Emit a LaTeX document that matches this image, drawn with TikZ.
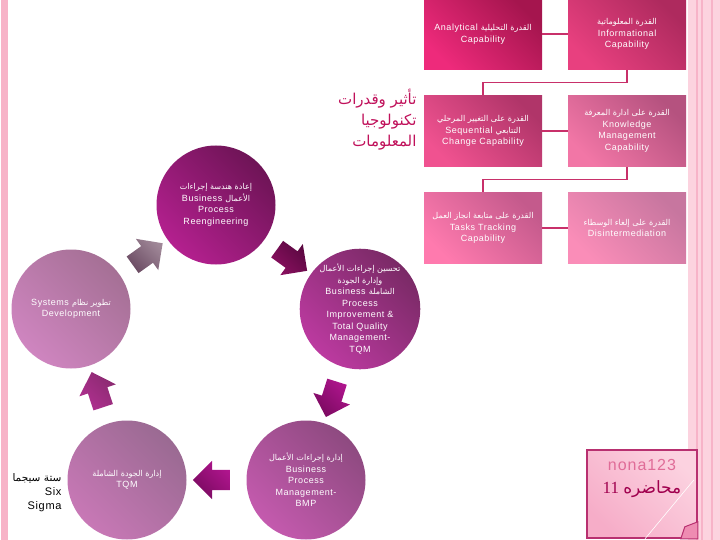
\documentclass[tikz,border=0pt]{standalone}
\usepackage{fontspec}
\setmainfont{Liberation Sans}[LetterSpace=6]
\newfontfamily\arabicfont[Script=Arabic]{DejaVu Sans}
\newfontfamily\arabicsmall[Script=Arabic, Scale=0.9]{DejaVu Sans}
\newfontfamily\serifnum{Liberation Serif}
\TeXXeTstate=1
\usetikzlibrary{shapes.arrows,calc}

\newcommand\artext[1]{{\arabicsmall\beginR #1\endR}}
\newcommand\artitle[1]{{\arabicfont\beginR #1\endR}}

\definecolor{linkcol}{HTML}{C8306A}
\definecolor{titlecol}{HTML}{C0105A}
\definecolor{stripecol}{HTML}{F7B3C8}
\definecolor{stripelight}{HTML}{FCD3DF}
% boxes: dark (top right), light (bottom left)
\definecolor{aAd}{HTML}{A5154E}\definecolor{aAl}{HTML}{EE2A7B}
\definecolor{bAd}{HTML}{AE2A5E}\definecolor{bAl}{HTML}{E8407F}
\definecolor{aBd}{HTML}{B03569}\definecolor{aBl}{HTML}{F05290}
\definecolor{bBd}{HTML}{B5527F}\definecolor{bBl}{HTML}{F276A6}
\definecolor{aCd}{HTML}{C45A8C}\definecolor{aCl}{HTML}{FF7AAE}
\definecolor{bCd}{HTML}{C7769F}\definecolor{bCl}{HTML}{FA8DB8}
% circles
\definecolor{bprd}{HTML}{6E1456}\definecolor{bprl}{HTML}{B4208F}
\definecolor{bpid}{HTML}{7A2A66}\definecolor{bpil}{HTML}{BC3AA0}
\definecolor{bpmd}{HTML}{8E4A80}\definecolor{bpml}{HTML}{C45AAE}
\definecolor{tqmd}{HTML}{9A6A92}\definecolor{tqml}{HTML}{C878B6}
\definecolor{sysd}{HTML}{A57095}\definecolor{sysl}{HTML}{CF85C0}
% arrows
\definecolor{arAd}{HTML}{6A4A62}\definecolor{arAl}{HTML}{A08898}
\definecolor{arBd}{HTML}{5A0840}\definecolor{arBl}{HTML}{8A1060}
\definecolor{arCd}{HTML}{7A0A60}\definecolor{arCl}{HTML}{B0158E}
\definecolor{arDd}{HTML}{8A2A70}\definecolor{arDl}{HTML}{B03090}
% note
\definecolor{noteborder}{HTML}{B83070}
\definecolor{noted}{HTML}{F6ADC8}\definecolor{notel}{HTML}{FCD2E0}
\definecolor{notefold}{HTML}{EE8CB2}
\definecolor{nonacol}{HTML}{E06C98}
\definecolor{lectcol}{HTML}{A0004E}

\begin{document}
\begin{tikzpicture}[x=1pt, y=-1pt,
    capbox/.style={rectangle, minimum width=118pt, minimum height=71pt,
      inner sep=1pt, text=white, align=center,
      font=\fontsize{9}{11.5}\selectfont},
    cyc/.style={circle, minimum size=119pt, inner sep=0pt, text=white,
      align=center, font=\fontsize{9}{11.5}\selectfont},
    cycarrow/.style={single arrow, single arrow head extend=9pt,
      minimum height=37pt, inner xsep=0pt, inner ysep=10pt},
    link/.style={linkcol, line width=1.6pt},
    diag/.style 2 args={top color=#1, bottom color=#2, shading angle=-45}]

  \useasboundingbox (0,0) rectangle (720,540);

  % side stripes
  \fill[stripecol] (1,0) rectangle (8,540);
  \fill[stripelight] (688,0) rectangle (720,540);
  \foreach \x in {696,701,711} {
    \fill[stripecol] (\x,0) rectangle (\x+2,540);
  }

  % capability boxes
  \node[capbox, diag={aAd}{aAl}] (a1) at (483,34)
    {Analytical \artext{القدرة التحليلية}\\Capability};
  \node[capbox, diag={bAd}{bAl}] (b1) at (627,34)
    {\artext{القدرة المعلوماتية}\\Informational\\Capability};
  \node[capbox, diag={aBd}{aBl}] (a2) at (483,131)
    {\artext{القدرة على التغيير المرحلي}\\Sequential \artext{التتابعي}\\Change Capability};
  \node[capbox, diag={bBd}{bBl}] (b2) at (627,131)
    {\artext{القدرة على ادارة المعرفة}\\Knowledge\\Management\\Capability};
  \node[capbox, diag={aCd}{aCl}] (a3) at (483,228)
    {\artext{القدرة على متابعة انجاز العمل}\\Tasks Tracking\\Capability};
  \node[capbox, diag={bCd}{bCl}] (b3) at (627,228)
    {\artext{القدرة على إلغاء الوسطاء}\\Disintermediation};

  \draw[link] (a1) -- (b1);
  \draw[link] (b1.south) -- ++(0,13) -| (a2.north);
  \draw[link] (a2) -- (b2);
  \draw[link] (b2.south) -- ++(0,13) -| (a3.north);
  \draw[link] (a3) -- (b3);

  \node[anchor=east, align=right, text=titlecol,
    font=\fontsize{15}{21}\selectfont] (title) at (420,120)
    {\artitle{تأثير وقدرات}\\\artitle{تكنولوجيا}\\\artitle{المعلومات}};

  % cycle
  \node[cyc, diag={bprd}{bprl}] (bpr) at (216,205)
    {\artext{إعادة هندسة إجراءات}\\Business \artext{الأعمال}\\Process\\Reengineering};
  \node[cyc, diag={bpid}{bpil}] (bpi) at (360,309)
    {\artext{تحسين إجراءات الأعمال}\\\artext{وإدارة الجودة}\\Business \artext{الشاملة}\\Process\\Improvement \&\\Total Quality\\Management-\\TQM};
  \node[cyc, diag={bpmd}{bpml}] (bpm) at (306,480)
    {\artext{إدارة إجراءات الأعمال}\\Business\\Process\\Management-\\BMP};
  \node[cyc, diag={tqmd}{tqml}] (tqm) at (127,480)
    {\artext{إدارة الجودة الشاملة}\\TQM};
  \node[cyc, diag={sysd}{sysl}] (sysdev) at (71,309)
    {Systems \artext{تطوير نظام}\\Development};

  \node[cycarrow, rotate=35.6, diag={arAl}{arAd}] (ar1)
    at ($(sysdev)!0.5!(bpr)$) {};
  \node[cycarrow, rotate=-35.8, diag={arBd}{arBl}] (ar2)
    at ($(bpr)!0.5!(bpi)$) {};
  \node[cycarrow, rotate=-107.5, diag={arCl}{arCd}] (ar3)
    at ($(bpi)!0.5!(bpm)$) {};
  \node[cycarrow, rotate=180, diag={arCl}{arCd}] (ar4)
    at ($(bpm)!0.5!(tqm)$) {};
  \node[cycarrow, rotate=108.1, diag={arDd}{arDl}] (ar5)
    at ($(tqm)!0.5!(sysdev)$) {};

  \node[anchor=east, align=right, font=\fontsize{11}{14}\selectfont] (sixsigma)
    at (65,493) {\artitle{\fontsize{10.5}{14}\selectfont ستة سيجما}\\Six\\Sigma};

  % lecture note
  \node[rectangle, minimum width=110pt, minimum height=88pt,
    draw=noteborder, line width=1.6pt, diag={notel}{noted}]
    (nona) at (642,494) {};
  \draw[white, line width=0.6pt] ($(nona.south)+(3,0)$) -- ($(nona.east)+(-4,-14)$);
  \node[text=nonacol, font=\fontsize{16}{18}\selectfont] (nonatxt)
    at (642,465) {nona123};
  \node[text=lectcol, font=\fontsize{17}{19}\selectfont] (lecture)
    at (642,489) {\serifnum 11 \artitle{محاضره}};
  \draw[noteborder, line width=1pt, fill=notefold]
    ($(nona.south east)+(-17,0)$) -- ($(nona.south east)+(-13,-12)$)
    -- ($(nona.south east)+(0,-17)$) -- (nona.south east) -- cycle;

\end{tikzpicture}
\end{document}
